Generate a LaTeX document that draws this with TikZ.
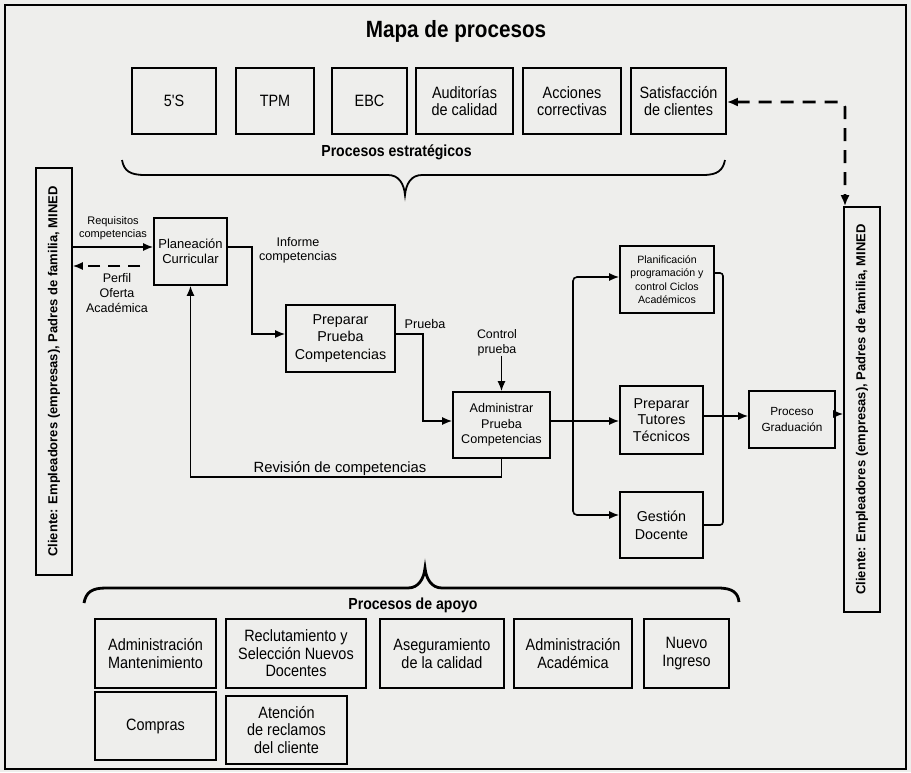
\documentclass[tikz,border=0pt]{standalone}
\usepackage{fontspec}
\setmainfont{Liberation Sans}
\newfontfamily\narrowfont[FakeStretch=0.88]{Liberation Sans}
\usetikzlibrary{arrows.meta}
\definecolor{paper}{RGB}{238,238,236}
\newcommand{\fs}[2]{\fontsize{#1}{#2}\selectfont}
\begin{document}
\begin{tikzpicture}[x=1pt,y=-1pt,
  box/.style={draw,line width=1.6pt,align=center,inner sep=0pt},
  topbox/.style={box,minimum height=66pt,font=\narrowfont\fs{16.4}{17}},
  botbox/.style={box,font=\narrowfont\fs{16.4}{17.5}},
  lbl/.style={align=center,inner sep=0pt},
  plain/.style={line width=1.6pt},
  conn/.style={line width=1.6pt,-{Latex[length=10pt,width=8pt]}},
  dconn/.style={line width=2.6pt,dash pattern=on 13pt off 9pt,{Latex[length=11pt,width=9pt]}-{Latex[length=11pt,width=9pt]}},
  client/.style={box,minimum width=36pt}
]
\fill[paper] (0,0) rectangle (911,772);
\useasboundingbox (0,0) rectangle (911,772);
\draw[line width=1.5pt] (5,5) rectangle (906,769);

% title
\node[lbl,font=\narrowfont\fs{23.5}{26}\bfseries] (title) at (456,31) {Mapa de procesos};

% strategic processes
\node[topbox,minimum width=84pt] (s5)  at (174,101)   {5'S};
\node[topbox,minimum width=78pt] (tpm) at (275,101)   {TPM};
\node[topbox,minimum width=75pt] (ebc) at (369.5,101) {EBC};
\node[topbox,minimum width=97pt] (aud) at (464.5,101) {Auditorías\\de calidad};
\node[topbox,minimum width=98pt] (acc) at (572,101)   {Acciones\\correctivas};
\node[topbox,minimum width=95pt] (sat) at (678.5,101) {Satisfacción\\de clientes};
\node[lbl,font=\narrowfont\fs{16}{17}\bfseries] (pest) at (396.5,152) {Procesos estratégicos};
\draw[line width=1.8pt] (122,160) .. controls (124,171) and (130,175) .. (145,175)
  -- (388,175) .. controls (399,175) and (404,184) .. (405,195)
  .. controls (406,184) and (411,175) .. (422,175) -- (703,175)
  .. controls (718,175) and (723,170) .. (725,160);

% clients
\node[client,minimum height=407pt] (cl) at (54,371.5) {};
\node[lbl,rotate=90,font=\fs{13}{15}\bfseries] (cltxt) at (cl.center) {Cliente: Empleadores (empresas), Padres de familia, MINED};
\node[client,minimum height=405pt] (cr) at (862,409.5) {};
\node[lbl,rotate=90,font=\fs{13}{15}\bfseries] (crtxt) at (cr.center) {Cliente: Empleadores (empresas), Padres de familia, MINED};

% core processes
\node[box,minimum width=73pt,minimum height=67pt,font=\fs{13}{14.5}] (plan) at (190.5,251.5) {Planeación\\Curricular};
\node[box,minimum width=109pt,minimum height=67pt,font=\fs{14.3}{17.5}] (prep) at (340.5,338.5) {Preparar\\Prueba\\Competencias};
\node[box,minimum width=97pt,minimum height=66pt,font=\fs{12.6}{15.3}] (adm) at (501.5,425) {Administrar\\Prueba\\Competencias};
\node[box,minimum width=94pt,minimum height=67pt,font=\fs{10.6}{13.3}] (plani) at (667,279.5) {Planificación\\programación y\\control Ciclos\\Académicos};
\node[box,minimum width=83pt,minimum height=68pt,font=\fs{14.3}{16.7}] (tut) at (661.5,420) {Preparar\\Tutores\\Técnicos};
\node[box,minimum width=83pt,minimum height=66pt,font=\fs{14.3}{18}] (gest) at (661.5,525) {Gestión\\Docente};
\node[box,minimum width=86pt,minimum height=57pt,font=\fs{11.8}{16}] (proc) at (792,419.5) {Proceso\\Graduación};

% helper coordinates
\coordinate (h247) at (0,247);
\coordinate (h334) at (0,334);
\coordinate (h421) at (0,421);
\coordinate (h477) at (0,477);
\coordinate (h277) at (0,277);
\coordinate (h515) at (0,515);
\coordinate (h273) at (0,273);
\coordinate (h525) at (0,525);
\coordinate (h416) at (0,416);
\coordinate (h414) at (0,414);
\coordinate (h102) at (0,102);
\coordinate (c1) at (252,247);
\coordinate (c2) at (252,334);
\coordinate (c3) at (423,334);
\coordinate (c4) at (423,421);
\coordinate (br) at (573,421);
\coordinate (mg) at (723,416);
\coordinate (dstart) at (140,266);
\coordinate (dcorner) at (845,102);

% labels
\node[lbl,font=\fs{11}{13}] (req) at (113,228) {Requisitos\\competencias};
\node[lbl,font=\fs{12.5}{15}] (perf) at (117,293) {Perfil\\Oferta\\Académica};
\node[lbl,font=\fs{12.6}{14.5}] (inf) at (298,250) {Informe\\competencias};
\node[lbl,font=\fs{12.6}{15}] (prb) at (425,324) {Prueba};
\node[lbl,font=\fs{12.4}{15}] (ctl) at (497,342.5) {Control\\prueba};
\node[lbl,font=\fs{14.8}{17}] (rev) at (340,469) {Revisión de competencias};

% connectors
\draw[conn] (cl.east |- h247) -- (plan.west |- h247);
\draw[conn,dash pattern=on 12pt off 8pt] (dstart) -- (cl.east |- dstart);
\draw[conn] (plan.east |- h247) -- (c1) -- (c2) -- (prep.west |- c2);
\draw[conn] (prep.east |- c3) -- (c3) -- (c4) -- (adm.west |- c4);
\draw[conn] (ctl.south -| adm.north) -- (adm.north);
\draw[conn] (adm.south) -- (adm.south |- h477) -- (plan.south |- h477) -- (plan.south);
\draw[conn] (adm.east |- h421) -- (tut.west |- h421);
\draw[conn,rounded corners=4pt] (br) |- (plani.west |- h277);
\draw[conn,rounded corners=4pt] (br) |- (gest.west |- h515);
\draw[plain,rounded corners=3pt] (plani.east |- h273) -| (mg);
\draw[plain,rounded corners=3pt] (gest.east |- h525) -| (mg);
\draw[conn] (tut.east |- h416) -- (proc.west |- h416);
\draw[conn] (proc.east |- h414) -- (cr.west |- h414);
\draw[dconn,rounded corners=5pt] (sat.east |- h102) -- (dcorner) -- (cr.north -| dcorner);

% support processes
\draw[line width=2.8pt] (84,603) .. controls (86,592) and (92,588) .. (106,588)
  -- (408,588) .. controls (419,588) and (424,578) .. (425,568)
  .. controls (426,578) and (431,588) .. (442,588) -- (718,588)
  .. controls (733,588) and (738,593) .. (739,602);
\node[lbl,font=\narrowfont\fs{16}{17}\bfseries] (papo) at (413,605) {Procesos de apoyo};
\node[botbox,minimum width=121pt,minimum height=69pt] (am)  at (155.5,653.5) {Administración\\Mantenimiento};
\node[botbox,minimum width=140pt,minimum height=69pt] (rec) at (296,653.5)   {Reclutamiento y\\Selección Nuevos\\Docentes};
\node[botbox,minimum width=124pt,minimum height=69pt] (ase) at (442,653.5)   {Aseguramiento\\de la calidad};
\node[botbox,minimum width=118pt,minimum height=69pt] (aa)  at (573,653.5)   {Administración\\Académica};
\node[botbox,minimum width=85pt,minimum height=69pt]  (ni)  at (686.5,653.5) {Nuevo\\Ingreso};
\node[botbox,minimum width=121pt,minimum height=68pt] (com) at (155.5,726)   {Compras};
\node[botbox,minimum width=121pt,minimum height=68pt] (ate) at (286.5,730)   {Atención\\de reclamos\\del cliente};
\end{tikzpicture}
\end{document}
